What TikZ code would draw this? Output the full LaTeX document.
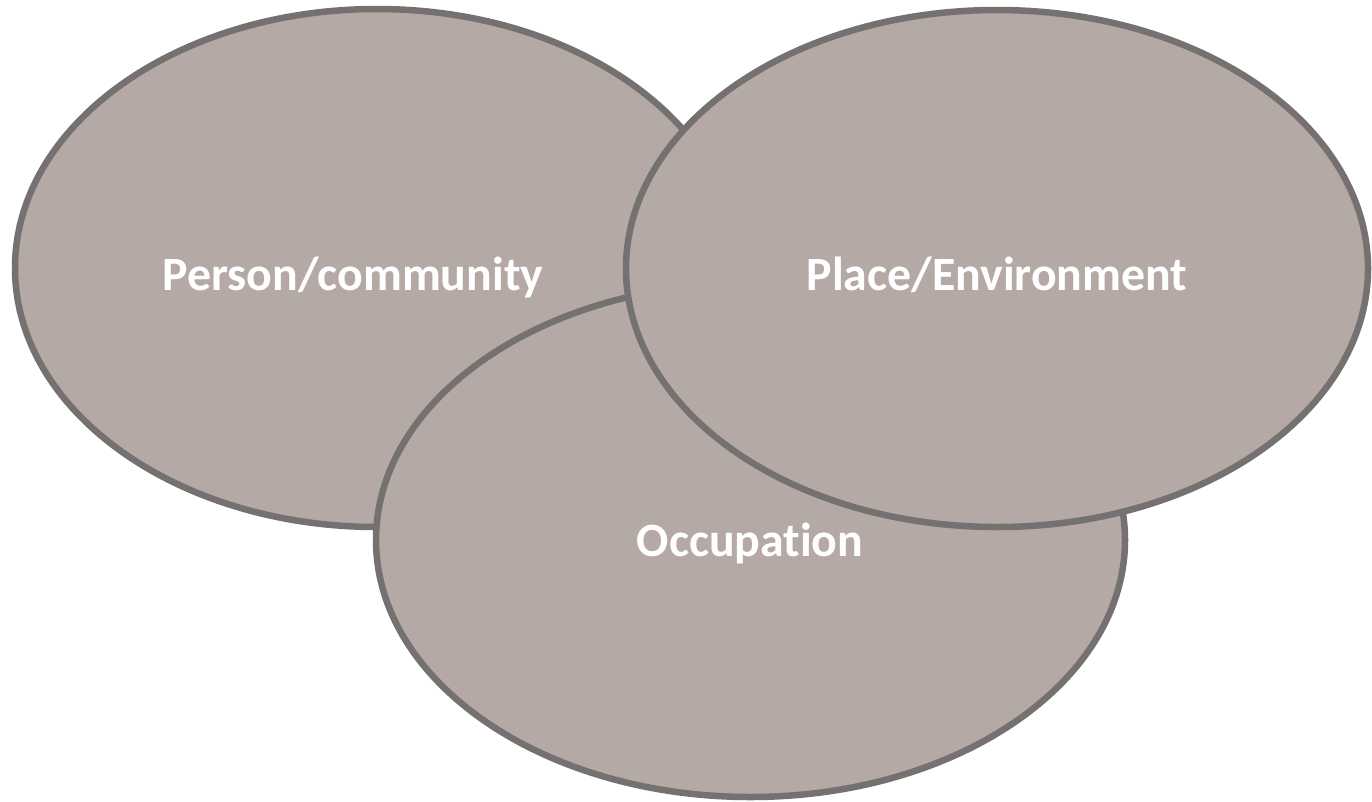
\documentclass[tikz,border=0pt]{standalone}
\usepackage{fontspec}
\setmainfont{Carlito}[Ligatures=NoCommon]
\definecolor{taupe}{RGB}{180,169,165}
\definecolor{rim}{RGB}{118,113,113}

\begin{document}
\begin{tikzpicture}[x=1pt,y=-1pt,
    blob/.style={fill=taupe,draw=rim,line width=6.5pt},
    tag/.style={text=white,font=\fontsize{47.8}{57}\bfseries\selectfont,anchor=base,inner sep=0pt}]
      \useasboundingbox (0,0) rectangle (1372,801);
      \draw[blob] (377,268) ellipse (362 and 259);
      \draw[blob] (750.5,540) ellipse (374.5 and 257);
      \draw[blob] (997,268.5) ellipse (371 and 258.5);
      \node[tag] (person) at (353,290.7) {Person/community};
      \node[tag] (place) at (997,290.7) {Place/Environment};
      \node[tag] (occupation) at (750,556.7) {Occupation};
    \end{tikzpicture}
\end{document}
